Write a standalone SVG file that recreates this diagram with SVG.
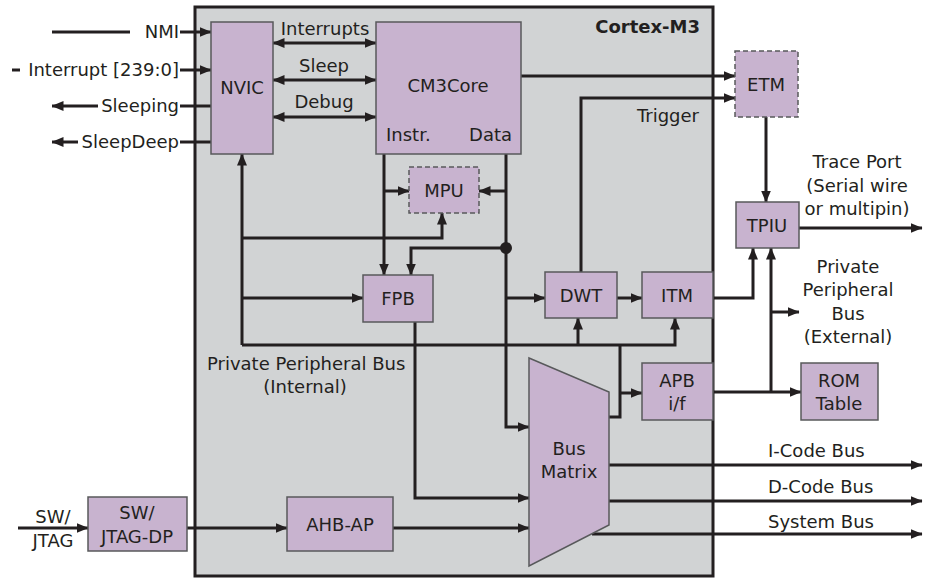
<svg xmlns="http://www.w3.org/2000/svg" width="927" height="578" viewBox="0 0 927 578">
<defs>
<marker id="ah" markerUnits="userSpaceOnUse" markerWidth="12" markerHeight="10" refX="11.5" refY="5" orient="auto-start-reverse" viewBox="0 0 12 10">
<path d="M0,0 L12,5 L0,10 z" fill="#231f20"/>
</marker>
</defs>
<style>
.bg{fill:#d1d3d4;stroke:#231f20;stroke-width:3}
.box{fill:#c8b3cf;stroke:#58595b;stroke-width:1.5}
.dash{stroke-dasharray:5,3}
.c{fill:none;stroke:#231f20;stroke-width:3;stroke-linejoin:miter}
.a{marker-end:url(#ah)}
.b{marker-start:url(#ah);marker-end:url(#ah)}
text{font-family:"DejaVu Sans","Liberation Sans",sans-serif;font-size:18px;fill:#231f20}
.m{text-anchor:middle}
.e{text-anchor:end}
.bold{font-weight:bold}
</style>
<rect id="cortex-m3" class="bg" x="195" y="7" width="518" height="569"/>
<text class="e bold" x="700" y="33">Cortex-M3</text>

<g id="connectors">
<line class="c" x1="52" y1="32" x2="130" y2="32"/>
<line class="c a" x1="180" y1="32" x2="211" y2="32"/>
<line class="c" x1="12" y1="70" x2="20" y2="70"/>
<line class="c a" x1="180" y1="70" x2="211" y2="70"/>
<line class="c a" x1="98" y1="106" x2="52" y2="106"/>
<line class="c" x1="180" y1="106" x2="211" y2="106"/>
<line class="c a" x1="78" y1="142" x2="52" y2="142"/>
<line class="c" x1="180" y1="142" x2="211" y2="142"/>
<line class="c b" x1="273" y1="43" x2="376" y2="43"/>
<line class="c b" x1="273" y1="80" x2="376" y2="80"/>
<line class="c b" x1="273" y1="117" x2="376" y2="117"/>
<line class="c a" x1="521" y1="76" x2="735" y2="76"/>
<polyline class="c a" points="581,272 581,98 735,98"/>
<line class="c a" x1="766" y1="117" x2="766" y2="202"/>
<line class="c a" x1="799" y1="228" x2="922" y2="228"/>
<polyline class="c a" points="713,298 753,298 753,248"/>
<line class="c a" x1="771" y1="392" x2="771" y2="248"/>
<line class="c a" x1="771" y1="312" x2="799" y2="312"/>
<line class="c a" x1="713" y1="392" x2="801" y2="392"/>
<line class="c a" x1="242" y1="345" x2="242" y2="154"/>
<polyline class="c a" points="242,238 442,238 442,213"/>
<line class="c a" x1="242" y1="298" x2="363" y2="298"/>
<line class="c a" x1="384" y1="154" x2="384" y2="275"/>
<line class="c a" x1="384" y1="191" x2="409" y2="191"/>
<polyline class="c a" points="506,154 506,427 529,427"/>
<line class="c a" x1="506" y1="191" x2="479" y2="191"/>
<polyline class="c a" points="506,248 411,248 411,275"/>
<circle cx="506" cy="248" r="6" fill="#231f20"/>
<line class="c a" x1="506" y1="298" x2="545" y2="298"/>
<line class="c a" x1="617" y1="298" x2="642" y2="298"/>
<polyline class="c a" points="242,345 675,345 675,318"/>
<line class="c a" x1="578" y1="345" x2="578" y2="318"/>
<polyline class="c" points="609,417 620,417 620,345"/>
<line class="c a" x1="620" y1="393" x2="642" y2="393"/>
<polyline class="c a" points="415,322 415,498 529,498"/>
<line class="c a" x1="18" y1="528" x2="88" y2="528"/>
<line class="c a" x1="187" y1="528" x2="287" y2="528"/>
<line class="c a" x1="393" y1="528" x2="529" y2="528"/>
<line class="c a" x1="609" y1="465" x2="922" y2="465"/>
<line class="c a" x1="609" y1="501" x2="922" y2="501"/>
<line class="c a" x1="592" y1="534" x2="922" y2="534"/>
</g>

<g id="labels">
<text class="e" x="179" y="38">NMI</text>
<text class="e" x="179" y="76">Interrupt [239:0]</text>
<text class="e" x="179" y="112">Sleeping</text>
<text class="e" x="179" y="148">SleepDeep</text>
<text class="m" x="325" y="35">Interrupts</text>
<text class="m" x="324" y="72">Sleep</text>
<text class="m" x="324" y="108">Debug</text>
<text class="e" x="699" y="122">Trigger</text>
<text class="m" x="857" y="168">Trace Port</text>
<text class="m" x="857" y="192">(Serial wire</text>
<text class="m" x="857" y="215">or multipin)</text>
<text class="m" x="848" y="273">Private</text>
<text class="m" x="848" y="296">Peripheral</text>
<text class="m" x="848" y="320">Bus</text>
<text class="m" x="848" y="343">(External)</text>
<text x="207" y="370">Private Peripheral Bus</text>
<text class="m" x="305" y="393">(Internal)</text>
<text class="m" x="53" y="523">SW/</text>
<text class="m" x="53" y="547">JTAG</text>
<text x="768" y="457">I-Code Bus</text>
<text x="768" y="493">D-Code Bus</text>
<text x="768" y="528">System Bus</text>
</g>

<g id="nvic"><rect class="box" x="211" y="22" width="62" height="132"/><text class="m" x="242" y="94">NVIC</text></g>
<g id="cm3core"><rect class="box" x="376" y="22" width="145" height="132"/><text class="m" x="448" y="92">CM3Core</text><text x="386" y="141">Instr.</text><text class="e" x="512" y="141">Data</text></g>
<g id="mpu"><rect class="box dash" x="409" y="167" width="70" height="46"/><text class="m" x="444" y="197">MPU</text></g>
<g id="fpb"><rect class="box" x="363" y="275" width="70" height="47"/><text class="m" x="398" y="305">FPB</text></g>
<g id="dwt"><rect class="box" x="545" y="272" width="72" height="46"/><text class="m" x="581" y="302">DWT</text></g>
<g id="itm"><rect class="box" x="642" y="272" width="71" height="46"/><text class="m" x="677" y="302">ITM</text></g>
<g id="etm"><rect class="box dash" x="735" y="51" width="63" height="66"/><text class="m" x="766" y="91">ETM</text></g>
<g id="tpiu"><rect class="box" x="736" y="202" width="63" height="46"/><text class="m" x="767" y="232">TPIU</text></g>
<g id="apb"><rect class="box" x="642" y="363" width="71" height="57"/><text class="m" x="677" y="387">APB</text><text class="m" x="677" y="410">i/f</text></g>
<g id="rom"><rect class="box" x="801" y="363" width="77" height="57"/><text class="m" x="839" y="387">ROM</text><text class="m" x="839" y="410">Table</text></g>
<g id="busmatrix"><polygon class="box" points="529,358 609,392 609,525 529,566"/><text class="m" x="569" y="455">Bus</text><text class="m" x="569" y="478">Matrix</text></g>
<g id="swjtagdp"><rect class="box" x="88" y="497" width="99" height="54"/><text class="m" x="137" y="519">SW/</text><text class="m" x="137" y="543">JTAG-DP</text></g>
<g id="ahbap"><rect class="box" x="287" y="497" width="106" height="54"/><text class="m" x="340" y="531">AHB-AP</text></g>
</svg>
